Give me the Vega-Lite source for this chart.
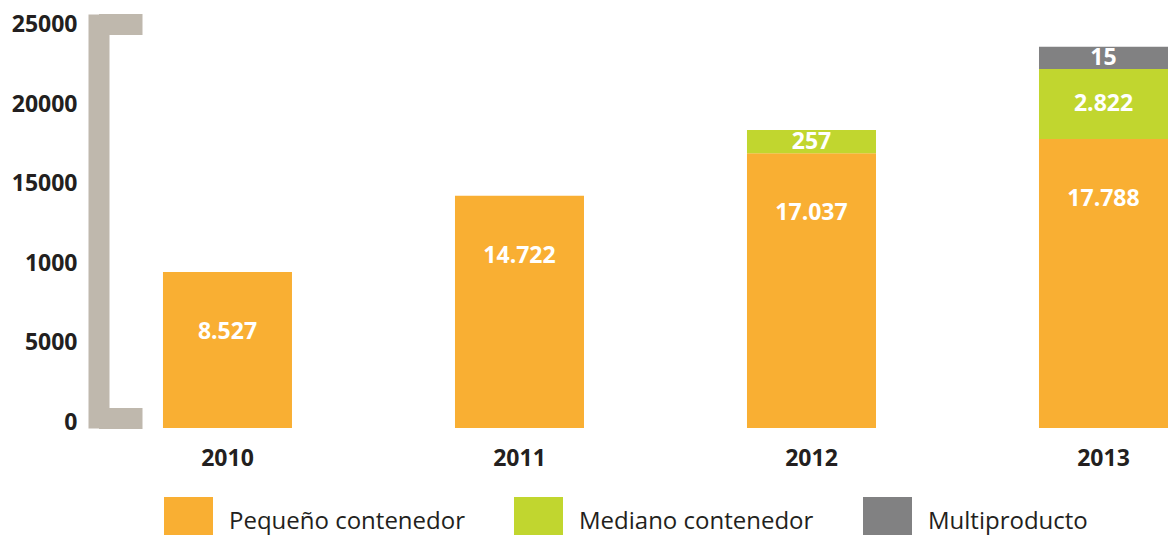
{
  "$schema": "https://vega.github.io/schema/vega-lite/v6.json",
  "width": 1069.5,
  "height": 414,
  "autosize": {"type": "none"},
  "padding": {"left": 98.5, "top": 14, "right": 0, "bottom": 107},
  "background": "white",
  "config": {"view": {"stroke": null}, "font": "Open Sans"},
  "data": {
    "values": [
      {"year": "2010", "serie": "Pequeño contenedor", "orden": 1, "value": 9650, "label": "8.527"},
      {"year": "2011", "serie": "Pequeño contenedor", "orden": 1, "value": 14375, "label": "14.722"},
      {"year": "2012", "serie": "Pequeño contenedor", "orden": 1, "value": 17000, "label": "17.037"},
      {"year": "2012", "serie": "Mediano contenedor", "orden": 2, "value": 1440, "label": "257"},
      {"year": "2013", "serie": "Pequeño contenedor", "orden": 1, "value": 17885, "label": "17.788"},
      {"year": "2013", "serie": "Mediano contenedor", "orden": 2, "value": 4330, "label": "2.822"},
      {"year": "2013", "serie": "Multiproducto", "orden": 3, "value": 1380, "label": "15"}
    ]
  },
  "transform": [
    {"stack": "value", "groupby": ["year"], "sort": [{"field": "orden", "order": "ascending"}], "as": ["v0", "v1"]}
  ],
  "encoding": {
    "x": {
      "field": "year",
      "type": "ordinal",
      "scale": {"paddingInner": 0.5582, "paddingOuter": 0.1104, "align": 1},
      "axis": {
        "title": null,
        "domain": false,
        "ticks": false,
        "labelAngle": 0,
        "labelFont": "Open Sans",
        "labelFontWeight": "bold",
        "labelFontSize": 23,
        "labelColor": "#231f20",
        "labelPadding": 19
      }
    }
  },
  "layer": [
    {
      "mark": {"type": "bar"},
      "encoding": {
        "y": {
          "field": "v1",
          "type": "quantitative",
          "title": null,
          "scale": {"domain": [0, 25619], "nice": false},
          "axis": {
            "title": null,
            "grid": false,
            "values": [0, 620, 5000, 10000, 15000, 20000, 25000],
            "format": "d",
            "labelExpr": "datum.value == 620 ? '' : (datum.value == 10000 ? '1000' : datum.label)",
            "domainColor": "#bfb8ad",
            "domainWidth": 21,
            "domainCap": "butt",
            "tickColor": "#bfb8ad",
            "tickWidth": 21,
            "tickSize": -43.5,
            "tickCap": "butt",
            "tickOpacity": {"condition": {"test": "datum.value == 620 || datum.value == 25000", "value": 1}, "value": 0},
            "labelFont": "Open Sans",
            "labelFontWeight": "bold",
            "labelFontSize": 23,
            "labelColor": "#231f20",
            "labelPadding": 65,
            "labelFlush": false,
            "labelOverlap": false,
            "labelBaseline": "middle",
            "labelOffset": {
              "condition": [
                {"test": "datum.value == 0", "value": -6},
                {"test": "datum.value == 5000", "value": -5},
                {"test": "datum.value == 10000", "value": -3},
                {"test": "datum.value == 15000", "value": -2}
              ],
              "value": 0
            }
          }
        },
        "y2": {"field": "v0"},
        "color": {
          "field": "serie",
          "type": "nominal",
          "scale": {
            "domain": ["Pequeño contenedor", "Mediano contenedor", "Multiproducto"],
            "range": ["#F9AF33", "#C1D62F", "#818182"]
          },
          "legend": {
            "title": null,
            "orient": "none",
            "legendX": 65.5,
            "legendY": 483,
            "direction": "horizontal",
            "columns": 3,
            "symbolType": "square",
            "symbolSize": 2401,
            "symbolStrokeWidth": 0,
            "symbolOpacity": 1,
            "labelFont": "Open Sans",
            "labelFontSize": 24,
            "labelColor": "#231f20",
            "labelOffset": 16,
            "labelLimit": 400,
            "columnPadding": 49,
            "padding": 0
          }
        }
      }
    },
    {
      "transform": [{"filter": "datum.orden == 1"}],
      "mark": {"type": "text", "color": "white", "font": "Open Sans", "fontWeight": "bold", "fontSize": 23, "baseline": "middle", "align": "center", "dy": 60},
      "encoding": {
        "y": {"field": "v1", "type": "quantitative", "title": null},
        "text": {"field": "label"}
      }
    },
    {
      "transform": [{"filter": "datum.orden > 1"}, {"fold": ["v0", "v1"], "as": ["k", "pos"]}],
      "mark": {"type": "text", "color": "white", "font": "Open Sans", "fontWeight": "bold", "fontSize": 23, "baseline": "middle", "align": "center"},
      "encoding": {
        "y": {"aggregate": "mean", "field": "pos", "type": "quantitative", "title": null},
        "text": {"field": "label"}
      }
    }
  ]
}
